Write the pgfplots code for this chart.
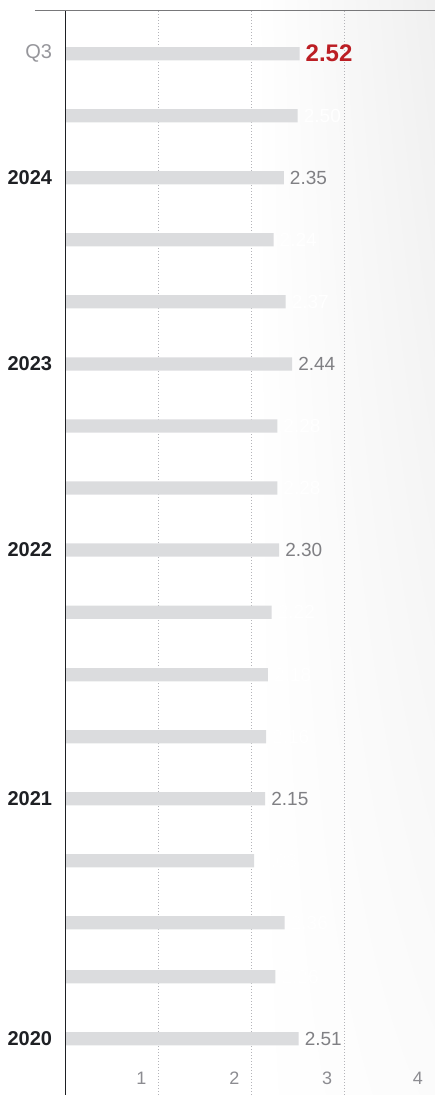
\documentclass[border=0pt]{standalone}
\usepackage{pgfplots}
\pgfplotsset{compat=1.18}
\usetikzlibrary{shadings}
\usepackage{fontspec}
\setmainfont{Liberation Sans}
\definecolor{barc}{RGB}{219,220,222}
\definecolor{valc}{RGB}{128,128,132}
\definecolor{tickc}{RGB}{140,140,145}
\definecolor{redc}{RGB}{188,30,36}
\definecolor{yearc}{RGB}{30,32,36}
\definecolor{qc}{RGB}{150,150,155}
\definecolor{gridc}{RGB}{180,180,185}
\definecolor{topc}{RGB}{120,120,122}
\newcommand\vl[1]{\textcolor{valc}{\fontsize{19}{22}\selectfont #1}}
\newcommand\hl[1]{\textcolor{white}{\fontsize{19}{22}\selectfont #1}}
\newcommand\rl[1]{\textcolor{redc}{\fontsize{24}{28}\selectfont\bfseries #1}}
\begin{document}
\begin{tikzpicture}[x=1pt,y=1pt]
\useasboundingbox (0,0) rectangle (435,1095);
\shade[upper left=white, upper right=black!6, lower left=white, lower right=black!1.5] (255,0) rectangle (435,1095);
\begin{axis}[
  at={(65.7pt,0pt)}, anchor=south west, scale only axis,
  width=369.3pt, height=1084pt,
  xmin=0, xmax=3.98, ymin=0, ymax=1084,
  clip=false,
  axis line style={draw=none},
  tick style={draw=none},
  xtick={1,2,3}, xticklabels={1,2,3},
  extra x ticks={3.98}, extra x tick labels={4},
  extra x tick style={grid=none},
  xmajorgrids=true,
  grid style={gridc, dash pattern=on 0.9pt off 2.1pt, line width=0.9pt},
  /pgf/number format/assume math mode=true,
  xticklabel style={font=\fontsize{18}{20}\selectfont, text=tickc, anchor=base, inner sep=0pt, xshift=-17pt, yshift=10.2pt},
  ytick={1041.3,917.3,731,545,296.3,56.3},
  yticklabels={\textcolor{qc}{Q3},\textbf{2024},\textbf{2023},\textbf{2022},\textbf{2021},\textbf{2020}},
  yticklabel style={font=\fontsize{20}{24}\selectfont, text=yearc, anchor=east, inner sep=0pt, xshift=-13.4pt},
]
\addplot[xbar, bar width=13.3pt, fill=barc, draw=none,
  nodes near coords, point meta=explicit symbolic,
  nodes near coords align=horizontal,
  every node near coord/.append style={anchor=west, inner sep=0pt, xshift=6pt}]
coordinates {
(2.52,1041.3) [\rl{2.52}]
(2.50,979.3) [\hl{2.50}]
(2.35,917.3) [\vl{2.35}]
(2.24,855.3) [\hl{2.24}]
(2.37,793.3) [\hl{2.37}]
(2.44,731) [\vl{2.44}]
(2.28,669) [\hl{2.28}]
(2.28,607) [\hl{2.28}]
(2.30,545) [\vl{2.30}]
(2.22,482.7) [\hl{2.22}]
(2.18,420.3) [\hl{2.18}]
(2.16,358.3) [\hl{2.16}]
(2.15,296.3) [\vl{2.15}]
(2.03,234.3) [\hl{2.03}]
(2.36,172.3) [\hl{2.36}]
(2.26,118.3) [\hl{2.26}]
(2.51,56.3) [\vl{2.51}]
};
\draw[color=yearc, line width=1.2pt] (axis cs:0,0) -- (axis cs:0,1084);
\draw[color=topc, line width=1.4pt] (axis cs:-0.333,1084.5) -- (axis cs:3.98,1084.5);
\end{axis}
\end{tikzpicture}
\end{document}
